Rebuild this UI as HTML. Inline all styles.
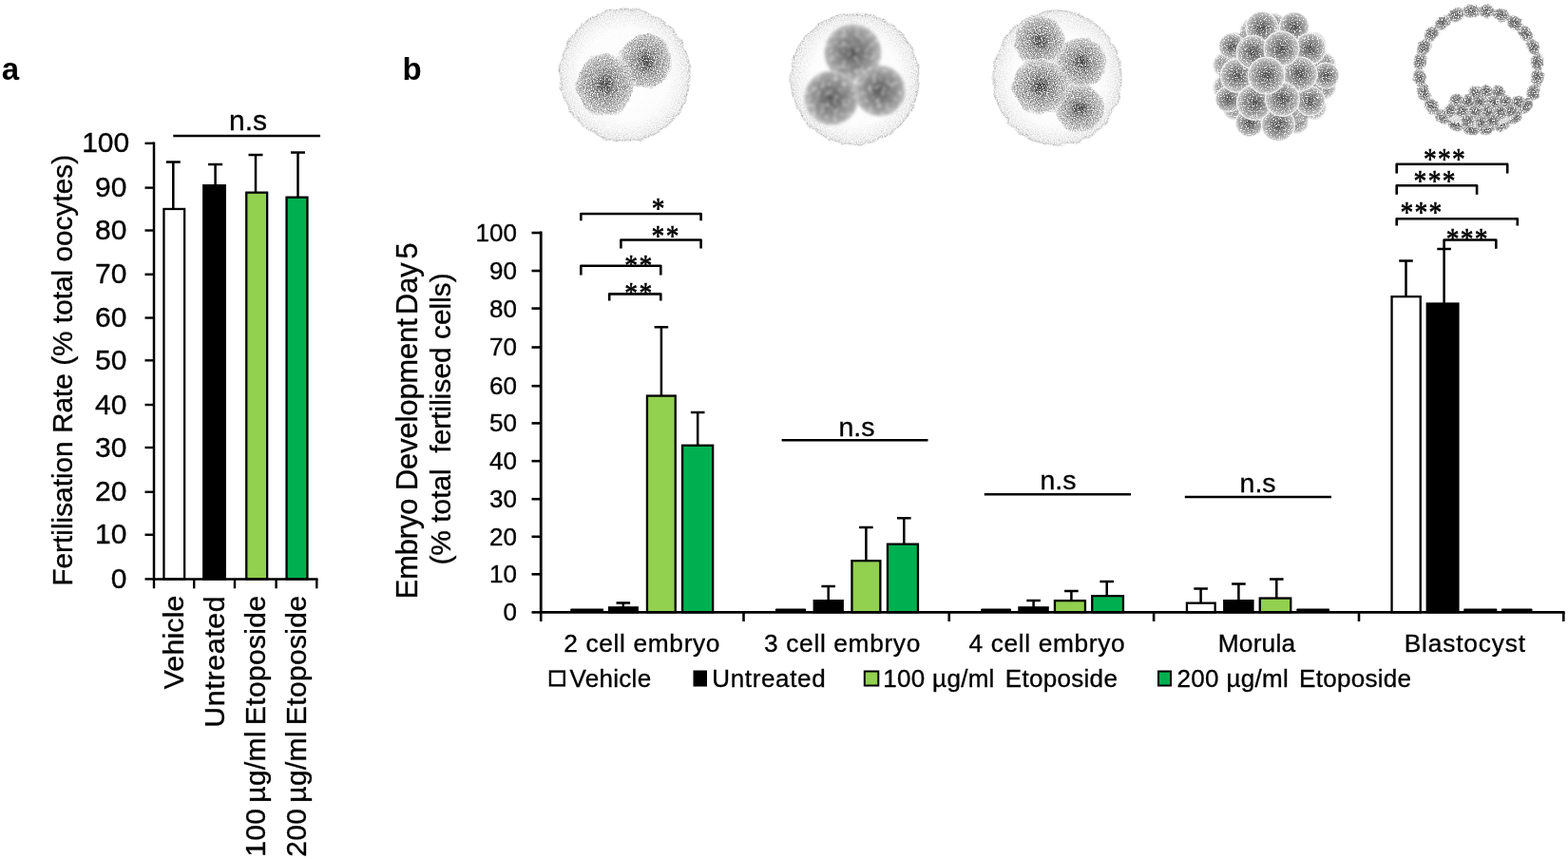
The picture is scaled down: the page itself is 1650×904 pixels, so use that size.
<!DOCTYPE html>
<html lang="en">
<head>
<meta charset="utf-8">
<title>Fertilisation rate and embryo development</title>
<style>
html,body{margin:0;padding:0;background:#fff;}
body{width:1650px;height:904px;overflow:hidden;}
svg{display:block;}
svg text{font-family:"Liberation Sans",Arial,Helvetica,sans-serif;fill:#000;stroke:#000;stroke-width:0.35px;}
svg text.sf{font-family:"Liberation Serif","Times New Roman",serif;}
#chart line,#chart path{stroke:#000;}
</style>
</head>
<body>
<svg width="1650" height="904" viewBox="0 0 1650 904">
<rect x="0" y="0" width="1650" height="904" fill="#fff"/>
<defs>
<filter id="grain" x="-10%" y="-10%" width="120%" height="120%" color-interpolation-filters="sRGB">
<feTurbulence type="fractalNoise" baseFrequency="0.09" numOctaves="2" seed="4" result="lo"/>
<feDisplacementMap in="SourceGraphic" in2="lo" scale="5" xChannelSelector="R" yChannelSelector="G" result="d"/>
<feTurbulence type="fractalNoise" baseFrequency="0.85" numOctaves="2" seed="9" result="hi"/>
<feColorMatrix in="hi" type="matrix" values="0 0 0 0 1 0 0 0 0 1 0 0 0 0 1 0 0 0 4.2 -2.1" result="w"/>
<feComposite in="w" in2="d" operator="in" result="sp"/>
<feColorMatrix in="d" type="matrix" values="0 0 0 0 0 0 0 0 0 0 0 0 0 0 0 -1.7 0 0 1.7 0" result="dk"/>
<feColorMatrix in="hi" type="matrix" values="0 0 0 0 0.3 0 0 0 0 0.3 0 0 0 0 0.3 0 0 0 -5 2.3" result="k"/>
<feComposite in="k" in2="dk" operator="in" result="ks"/>
<feMerge><feMergeNode in="d"/><feMergeNode in="ks"/><feMergeNode in="sp"/></feMerge>
</filter>
<filter id="grain2" x="-10%" y="-10%" width="120%" height="120%" color-interpolation-filters="sRGB">
<feTurbulence type="fractalNoise" baseFrequency="0.8" numOctaves="2" seed="21" result="hi"/>
<feColorMatrix in="hi" type="matrix" values="0 0 0 0 1 0 0 0 0 1 0 0 0 0 1 0 0 0 4.2 -2.15" result="w"/>
<feComposite in="w" in2="SourceGraphic" operator="in" result="sp"/>
<feMerge><feMergeNode in="SourceGraphic"/><feMergeNode in="sp"/></feMerge>
</filter>
<filter id="grain3" x="-10%" y="-10%" width="120%" height="120%" color-interpolation-filters="sRGB">
<feTurbulence type="fractalNoise" baseFrequency="0.16" numOctaves="2" seed="5" result="lo"/>
<feDisplacementMap in="SourceGraphic" in2="lo" scale="4" xChannelSelector="R" yChannelSelector="G" result="d"/>
<feTurbulence type="fractalNoise" baseFrequency="0.75" numOctaves="2" seed="33" result="hi"/>
<feColorMatrix in="hi" type="matrix" values="0 0 0 0 1 0 0 0 0 1 0 0 0 0 1 0 0 0 4.5 -2.2" result="w"/>
<feComposite in="w" in2="d" operator="in" result="sp"/>
<feMerge><feMergeNode in="d"/><feMergeNode in="sp"/></feMerge>
</filter>
<filter id="soft" x="-15%" y="-15%" width="130%" height="130%" color-interpolation-filters="sRGB">
<feTurbulence type="fractalNoise" baseFrequency="0.22" numOctaves="2" seed="14" result="n"/>
<feColorMatrix in="n" type="matrix" values="0 0 0 0 1 0 0 0 0 1 0 0 0 0 1 0 0 0 1.5 -0.68" result="w"/>
<feComposite in="w" in2="SourceGraphic" operator="in" result="sp"/>
<feMerge result="m"><feMergeNode in="SourceGraphic"/><feMergeNode in="sp"/></feMerge>
<feGaussianBlur in="m" stdDeviation="1.7"/>
</filter>
<radialGradient id="zona">
<stop offset="0" stop-color="#fff"/><stop offset="0.68" stop-color="#fcfcfc"/><stop offset="0.84" stop-color="#f3f3f3"/><stop offset="0.95" stop-color="#eaeaea"/><stop offset="0.985" stop-color="#d2d2d2"/><stop offset="1" stop-color="#dcdcdc" stop-opacity="0.7"/>
</radialGradient>
<radialGradient id="cell">
<stop offset="0" stop-color="#444"/><stop offset="0.18" stop-color="#606060"/><stop offset="0.36" stop-color="#929292"/><stop offset="0.7" stop-color="#b2b2b2"/><stop offset="0.92" stop-color="#c8c8c8"/><stop offset="1" stop-color="#e6e6e6"/>
</radialGradient>
<radialGradient id="cellb">
<stop offset="0" stop-color="#545454"/><stop offset="0.3" stop-color="#707070"/><stop offset="0.6" stop-color="#8a8a8a"/><stop offset="0.85" stop-color="#a2a2a2"/><stop offset="1" stop-color="#c0c0c0"/>
</radialGradient>
<radialGradient id="sph">
<stop offset="0" stop-color="#484848"/><stop offset="0.3" stop-color="#6e6e6e"/><stop offset="0.7" stop-color="#9e9e9e"/><stop offset="0.9" stop-color="#c0c0c0"/><stop offset="0.97" stop-color="#f0f0f0"/><stop offset="1" stop-color="#fff" stop-opacity="0.8"/>
</radialGradient>
<radialGradient id="sphb">
<stop offset="0" stop-color="#6a6a6a"/><stop offset="0.4" stop-color="#8c8c8c"/><stop offset="0.75" stop-color="#b4b4b4"/><stop offset="0.93" stop-color="#e4e4e4"/><stop offset="1" stop-color="#f4f4f4" stop-opacity="0.5"/>
</radialGradient>
<radialGradient id="blob">
<stop offset="0" stop-color="#585858"/><stop offset="0.5" stop-color="#7a7a7a"/><stop offset="0.85" stop-color="#a2a2a2"/><stop offset="1" stop-color="#c0c0c0" stop-opacity="0.5"/>
</radialGradient>
</defs>
<g filter="url(#grain)">
<ellipse cx="657.5" cy="79" rx="69.5" ry="71" fill="url(#zona)"/>
<path d="M706.7 64.3L706.8 66.8L706.9 69.3L706.9 71.9L706.9 74.6L705.2 76.7L703.6 78.7L702.0 80.6L700.3 82.4L698.6 84.1L696.9 85.7L695.0 87.2L693.1 88.7L691.2 90.1L689.1 91.4L686.9 92.7L684.6 94.0L682.1 93.6L679.6 93.2L677.2 92.6L674.9 92.0L672.6 91.3L670.4 90.6L668.2 89.7L666.1 88.7L663.9 87.6L661.8 86.4L659.6 85.1L657.4 83.7L656.4 81.2L655.6 78.7L654.8 76.3L654.2 73.9L653.6 71.5L653.1 69.2L652.8 66.7L652.5 64.3L652.4 61.8L652.3 59.3L652.3 56.7L652.3 54.0L654.0 51.9L655.6 49.9L657.2 48.0L658.9 46.2L660.6 44.5L662.3 42.9L664.2 41.4L666.1 39.9L668.0 38.5L670.1 37.2L672.3 35.9L674.6 34.6L677.1 35.0L679.6 35.4L682.0 36.0L684.3 36.6L686.6 37.3L688.8 38.0L691.0 38.9L693.1 39.9L695.3 41.0L697.4 42.2L699.6 43.5L701.8 44.9L702.8 47.4L703.6 49.9L704.4 52.3L705.0 54.7L705.6 57.1L706.1 59.4L706.4 61.9Z" fill="url(#cell)" stroke="none"/>
<path d="M667.4 89.3L666.5 92.3L665.6 95.1L664.6 97.9L663.6 100.5L662.5 103.0L661.3 105.5L660.0 107.9L658.6 110.3L657.1 112.7L655.5 115.0L653.7 117.3L651.9 119.6L649.2 120.3L646.5 120.8L644.0 121.2L641.4 121.5L638.9 121.7L636.4 121.7L633.9 121.7L631.4 121.5L628.8 121.2L626.3 120.8L623.6 120.3L620.9 119.6L619.1 117.3L617.3 115.0L615.7 112.7L614.2 110.3L612.8 107.9L611.5 105.5L610.3 103.0L609.2 100.5L608.2 97.9L607.2 95.1L606.3 92.3L605.4 89.3L606.3 86.3L607.2 83.5L608.2 80.7L609.2 78.1L610.3 75.6L611.5 73.1L612.8 70.7L614.2 68.3L615.7 65.9L617.3 63.6L619.1 61.3L620.9 59.0L623.6 58.3L626.3 57.8L628.8 57.4L631.4 57.1L633.9 56.9L636.4 56.9L638.9 56.9L641.4 57.1L644.0 57.4L646.5 57.8L649.2 58.3L651.9 59.0L653.7 61.3L655.5 63.6L657.1 65.9L658.6 68.3L660.0 70.7L661.3 73.1L662.5 75.6L663.6 78.1L664.6 80.7L665.6 83.5L666.5 86.3Z" fill="url(#cell)" stroke="none"/>
</g>
<g filter="url(#grain)">
<ellipse cx="899.5" cy="83" rx="68.5" ry="70" fill="url(#zona)"/>
</g>
<g filter="url(#soft)">
<circle cx="897.5" cy="55.5" r="30" fill="url(#cellb)"/>
<circle cx="925.8" cy="95.5" r="26.8" fill="url(#cellb)"/>
<circle cx="875" cy="103" r="28.6" fill="url(#cellb)"/>
</g>
<g filter="url(#grain)">
<ellipse cx="1112.5" cy="82" rx="68.5" ry="72" fill="url(#zona)"/>
<circle cx="1094" cy="43" r="27" fill="url(#cell)"/>
<circle cx="1138" cy="66" r="26.5" fill="url(#cell)"/>
<circle cx="1136" cy="114" r="25.5" fill="url(#cell)"/>
<path d="M1126.0 91.0L1125.1 93.6L1124.2 96.2L1123.2 98.6L1122.2 100.9L1121.1 103.2L1119.9 105.4L1118.6 107.5L1117.2 109.6L1115.7 111.7L1114.1 113.7L1112.3 115.8L1110.5 117.8L1107.8 118.4L1105.1 118.9L1102.6 119.2L1100.0 119.5L1097.5 119.7L1095.0 119.7L1092.5 119.7L1090.0 119.5L1087.4 119.2L1084.9 118.9L1082.2 118.4L1079.5 117.8L1077.7 115.8L1075.9 113.7L1074.3 111.7L1072.8 109.6L1071.4 107.5L1070.1 105.4L1068.9 103.2L1067.8 100.9L1066.8 98.6L1065.8 96.2L1064.9 93.6L1064.0 91.0L1064.9 88.4L1065.8 85.8L1066.8 83.4L1067.8 81.1L1068.9 78.8L1070.1 76.6L1071.4 74.5L1072.8 72.4L1074.3 70.3L1075.9 68.3L1077.7 66.2L1079.5 64.2L1082.2 63.6L1084.9 63.1L1087.4 62.8L1090.0 62.5L1092.5 62.3L1095.0 62.3L1097.5 62.3L1100.0 62.5L1102.6 62.8L1105.1 63.1L1107.8 63.6L1110.5 64.2L1112.3 66.2L1114.1 68.3L1115.7 70.3L1117.2 72.4L1118.6 74.5L1119.9 76.6L1121.1 78.8L1122.2 81.1L1123.2 83.4L1124.2 85.8L1125.1 88.4Z" fill="url(#cell)" stroke="none"/>
</g>
<g filter="url(#grain2)">
<circle cx="1392.7" cy="91.6" r="13.5" fill="url(#sphb)"/>
<circle cx="1382.6" cy="112.9" r="13.5" fill="url(#sphb)"/>
<circle cx="1364.2" cy="127.6" r="13.5" fill="url(#sphb)"/>
<circle cx="1341.2" cy="133.0" r="13.5" fill="url(#sphb)"/>
<circle cx="1318.2" cy="127.9" r="13.5" fill="url(#sphb)"/>
<circle cx="1299.7" cy="113.2" r="13.5" fill="url(#sphb)"/>
<circle cx="1289.4" cy="92.0" r="13.5" fill="url(#sphb)"/>
<circle cx="1289.3" cy="68.4" r="13.5" fill="url(#sphb)"/>
<circle cx="1299.4" cy="47.1" r="13.5" fill="url(#sphb)"/>
<circle cx="1317.8" cy="32.4" r="13.5" fill="url(#sphb)"/>
<circle cx="1340.8" cy="27.0" r="13.5" fill="url(#sphb)"/>
<circle cx="1363.8" cy="32.1" r="13.5" fill="url(#sphb)"/>
<circle cx="1382.3" cy="46.8" r="13.5" fill="url(#sphb)"/>
<circle cx="1392.6" cy="68.0" r="13.5" fill="url(#sphb)"/>
<circle cx="1340" cy="80" r="57" fill="#a2a2a2"/>
<circle cx="1296.3" cy="48.7" r="14" fill="url(#sph)"/>
<circle cx="1292.7" cy="104.4" r="14" fill="url(#sph)"/>
<circle cx="1314.9" cy="129.2" r="15" fill="url(#sph)"/>
<circle cx="1395.4" cy="79.6" r="14" fill="url(#sph)"/>
<circle cx="1328" cy="29.2" r="17.5" fill="url(#sph)"/>
<circle cx="1361.8" cy="28.3" r="16" fill="url(#sph)"/>
<circle cx="1345" cy="131" r="18" fill="url(#sph)"/>
<circle cx="1378.6" cy="106.2" r="16" fill="url(#sph)"/>
<circle cx="1378.6" cy="51.3" r="17" fill="url(#sph)"/>
<circle cx="1301.6" cy="79.6" r="18" fill="url(#sph)"/>
<circle cx="1318.4" cy="54.9" r="18" fill="url(#sph)"/>
<circle cx="1368" cy="77.9" r="18.5" fill="url(#sph)"/>
<circle cx="1320" cy="108" r="19" fill="url(#sph)"/>
<circle cx="1349.4" cy="104.4" r="18.5" fill="url(#sph)"/>
<circle cx="1348.5" cy="51.3" r="19" fill="url(#sph)"/>
<circle cx="1332.6" cy="79.6" r="20" fill="url(#sph)"/>
</g>
<g filter="url(#grain3)">
<ellipse cx="1617.8" cy="81.6" rx="9.4" ry="7.2" fill="url(#blob)" transform="rotate(97 1617.8 81.6)"/>
<ellipse cx="1613.6" cy="97.3" rx="9.4" ry="7.2" fill="url(#blob)" transform="rotate(112 1613.6 97.3)"/>
<ellipse cx="1605.5" cy="111.4" rx="9.4" ry="7.2" fill="url(#blob)" transform="rotate(127 1605.5 111.4)"/>
<ellipse cx="1594.0" cy="122.9" rx="9.4" ry="7.2" fill="url(#blob)" transform="rotate(142 1594.0 122.9)"/>
<ellipse cx="1579.9" cy="131.0" rx="9.4" ry="7.2" fill="url(#blob)" transform="rotate(157 1579.9 131.0)"/>
<ellipse cx="1564.2" cy="135.3" rx="9.4" ry="7.2" fill="url(#blob)" transform="rotate(172 1564.2 135.3)"/>
<ellipse cx="1547.9" cy="135.3" rx="9.4" ry="7.2" fill="url(#blob)" transform="rotate(187 1547.9 135.3)"/>
<ellipse cx="1532.2" cy="131.1" rx="9.4" ry="7.2" fill="url(#blob)" transform="rotate(202 1532.2 131.1)"/>
<ellipse cx="1518.1" cy="123.0" rx="9.4" ry="7.2" fill="url(#blob)" transform="rotate(217 1518.1 123.0)"/>
<ellipse cx="1506.6" cy="111.5" rx="9.4" ry="7.2" fill="url(#blob)" transform="rotate(232 1506.6 111.5)"/>
<ellipse cx="1498.5" cy="97.4" rx="9.4" ry="7.2" fill="url(#blob)" transform="rotate(247 1498.5 97.4)"/>
<ellipse cx="1494.2" cy="81.7" rx="9.4" ry="7.2" fill="url(#blob)" transform="rotate(262 1494.2 81.7)"/>
<ellipse cx="1494.2" cy="65.4" rx="9.4" ry="7.2" fill="url(#blob)" transform="rotate(277 1494.2 65.4)"/>
<ellipse cx="1498.4" cy="49.7" rx="9.4" ry="7.2" fill="url(#blob)" transform="rotate(292 1498.4 49.7)"/>
<ellipse cx="1506.5" cy="35.6" rx="9.4" ry="7.2" fill="url(#blob)" transform="rotate(307 1506.5 35.6)"/>
<ellipse cx="1518.0" cy="24.1" rx="9.4" ry="7.2" fill="url(#blob)" transform="rotate(322 1518.0 24.1)"/>
<ellipse cx="1532.1" cy="16.0" rx="9.4" ry="7.2" fill="url(#blob)" transform="rotate(337 1532.1 16.0)"/>
<ellipse cx="1547.8" cy="11.7" rx="9.4" ry="7.2" fill="url(#blob)" transform="rotate(352 1547.8 11.7)"/>
<ellipse cx="1564.1" cy="11.7" rx="9.4" ry="7.2" fill="url(#blob)" transform="rotate(367 1564.1 11.7)"/>
<ellipse cx="1579.8" cy="15.9" rx="9.4" ry="7.2" fill="url(#blob)" transform="rotate(382 1579.8 15.9)"/>
<ellipse cx="1593.9" cy="24.0" rx="9.4" ry="7.2" fill="url(#blob)" transform="rotate(397 1593.9 24.0)"/>
<ellipse cx="1605.4" cy="35.5" rx="9.4" ry="7.2" fill="url(#blob)" transform="rotate(412 1605.4 35.5)"/>
<ellipse cx="1613.5" cy="49.6" rx="9.4" ry="7.2" fill="url(#blob)" transform="rotate(427 1613.5 49.6)"/>
<ellipse cx="1617.8" cy="65.3" rx="9.4" ry="7.2" fill="url(#blob)" transform="rotate(442 1617.8 65.3)"/>
<ellipse cx="1558" cy="118" rx="38" ry="16" fill="#d6d6d6"/>
<circle cx="1552.3" cy="97.2" r="7.6" fill="url(#blob)"/>
<circle cx="1564.0" cy="96.0" r="7.6" fill="url(#blob)"/>
<circle cx="1577.0" cy="97.2" r="7.6" fill="url(#blob)"/>
<circle cx="1532.6" cy="105.9" r="7.6" fill="url(#blob)"/>
<circle cx="1544.8" cy="106.4" r="7.6" fill="url(#blob)"/>
<circle cx="1557.4" cy="106.9" r="7.6" fill="url(#blob)"/>
<circle cx="1571.4" cy="107.8" r="7.6" fill="url(#blob)"/>
<circle cx="1584.5" cy="107.3" r="7.6" fill="url(#blob)"/>
<circle cx="1597.5" cy="107.4" r="7.6" fill="url(#blob)"/>
<circle cx="1525.6" cy="116.9" r="7.6" fill="url(#blob)"/>
<circle cx="1538.5" cy="116.5" r="7.6" fill="url(#blob)"/>
<circle cx="1552.6" cy="117.3" r="7.6" fill="url(#blob)"/>
<circle cx="1565.8" cy="117.2" r="7.6" fill="url(#blob)"/>
<circle cx="1579.1" cy="118.3" r="7.6" fill="url(#blob)"/>
<circle cx="1589.8" cy="116.8" r="7.6" fill="url(#blob)"/>
<circle cx="1544.5" cy="127.6" r="7.6" fill="url(#blob)"/>
<circle cx="1559.6" cy="128.6" r="7.6" fill="url(#blob)"/>
<circle cx="1570.6" cy="127.4" r="7.6" fill="url(#blob)"/>
</g>
<g id="chart">
<text x="1.8" y="84.0" font-size="33" font-weight="bold" style="stroke-width:0">a</text>
<text x="423.6" y="84.0" font-size="33" font-weight="bold" style="stroke-width:0">b</text>
<path d="M174.80 170.40H189.80M182.30 170.40V219.80" fill="none" stroke-width="2.5"/>
<rect x="172.45" y="219.95" width="21.70" height="389.45" fill="#fff" stroke="#000" stroke-width="2.3"/>
<path d="M219.10 173.00H234.10M226.60 173.00V195.00" fill="none" stroke-width="2.5"/>
<rect x="214.25" y="195.15" width="22.50" height="414.25" fill="#000" stroke="#000" stroke-width="2.3"/>
<path d="M261.50 163.10H276.50M269.00 163.10V202.50" fill="none" stroke-width="2.5"/>
<rect x="259.25" y="202.65" width="21.90" height="406.75" fill="#92d050" stroke="#000" stroke-width="2.3"/>
<path d="M306.00 160.40H321.00M313.50 160.40V207.50" fill="none" stroke-width="2.5"/>
<rect x="301.55" y="207.65" width="21.90" height="401.75" fill="#00b050" stroke="#000" stroke-width="2.3"/>
<path d="M162.0 149.60000000000002V609.4H334.5" fill="none" stroke-width="2.5"/>
<line x1="152.5" y1="609.4" x2="162.0" y2="609.4" stroke-width="2.4"/>
<text x="133.4" y="619.0" font-size="30" text-anchor="end">0</text>
<line x1="152.5" y1="562.75" x2="162.0" y2="562.75" stroke-width="2.4"/>
<text x="133.4" y="572.35" font-size="30" text-anchor="end">10</text>
<line x1="152.5" y1="517.75" x2="162.0" y2="517.75" stroke-width="2.4"/>
<text x="133.4" y="527.35" font-size="30" text-anchor="end">20</text>
<line x1="152.5" y1="471.0" x2="162.0" y2="471.0" stroke-width="2.4"/>
<text x="133.4" y="480.6" font-size="30" text-anchor="end">30</text>
<line x1="152.5" y1="426.0" x2="162.0" y2="426.0" stroke-width="2.4"/>
<text x="133.4" y="435.6" font-size="30" text-anchor="end">40</text>
<line x1="152.5" y1="379.3" x2="162.0" y2="379.3" stroke-width="2.4"/>
<text x="133.4" y="388.90000000000003" font-size="30" text-anchor="end">50</text>
<line x1="152.5" y1="334.5" x2="162.0" y2="334.5" stroke-width="2.4"/>
<text x="133.4" y="344.1" font-size="30" text-anchor="end">60</text>
<line x1="152.5" y1="288.75" x2="162.0" y2="288.75" stroke-width="2.4"/>
<text x="133.4" y="298.35" font-size="30" text-anchor="end">70</text>
<line x1="152.5" y1="242.5" x2="162.0" y2="242.5" stroke-width="2.4"/>
<text x="133.4" y="252.1" font-size="30" text-anchor="end">80</text>
<line x1="152.5" y1="197.6" x2="162.0" y2="197.6" stroke-width="2.4"/>
<text x="133.4" y="207.2" font-size="30" text-anchor="end">90</text>
<line x1="152.5" y1="150.8" x2="162.0" y2="150.8" stroke-width="2.4"/>
<text x="136.2" y="160.4" font-size="30" text-anchor="end">100</text>
<line x1="162.0" y1="609.4" x2="162.0" y2="619.3" stroke-width="2.4"/>
<line x1="204.2" y1="609.4" x2="204.2" y2="619.3" stroke-width="2.4"/>
<line x1="247.0" y1="609.4" x2="247.0" y2="619.3" stroke-width="2.4"/>
<line x1="290.6" y1="609.4" x2="290.6" y2="619.3" stroke-width="2.4"/>
<line x1="333.3" y1="609.4" x2="333.3" y2="619.3" stroke-width="2.4"/>
<text x="76.4" y="389.8" font-size="29.8" text-anchor="middle" transform="rotate(-90 76.4 389.8)">Fertilisation Rate (% total oocytes)</text>
<text x="193.0" y="626.35" font-size="30.4" text-anchor="end" transform="rotate(-90 193.0 626.35)" letter-spacing="0.15" word-spacing="-2.8">Vehicle</text>
<text x="236.1" y="626.8000000000001" font-size="30.4" text-anchor="end" transform="rotate(-90 236.1 626.8000000000001)" letter-spacing="0.6" word-spacing="-2.8">Untreated</text>
<text x="279.4" y="626.5500000000001" font-size="30.0" text-anchor="end" transform="rotate(-90 279.4 626.5500000000001)" letter-spacing="0.35" word-spacing="-2.8">100 µg/ml Etoposide</text>
<text x="322.4" y="626.5500000000001" font-size="30.0" text-anchor="end" transform="rotate(-90 322.4 626.5500000000001)" letter-spacing="0.35" word-spacing="-2.8">200 µg/ml Etoposide</text>
<line x1="182.3" y1="143.1" x2="337" y2="143.1" stroke-width="2.5"/>
<text x="261" y="137.3" font-size="30" text-anchor="middle">n.s</text>
<rect x="600.30" y="640.50" width="34.70" height="3.8" rx="0.8" fill="#000"/>
<path d="M648.50 634.60H663.10M655.80 634.60V639.20" fill="none" stroke-width="2.5"/>
<rect x="641.15" y="639.35" width="29.60" height="4.95" fill="#000" stroke="#000" stroke-width="2.3"/>
<path d="M688.60 344.30H703.20M695.90 344.30V416.40" fill="none" stroke-width="2.5"/>
<rect x="680.95" y="416.55" width="29.80" height="227.75" fill="#92d050" stroke="#000" stroke-width="2.3"/>
<path d="M726.90 434.00H741.50M734.20 434.00V468.60" fill="none" stroke-width="2.5"/>
<rect x="718.05" y="468.75" width="32.10" height="175.55" fill="#00b050" stroke="#000" stroke-width="2.3"/>
<rect x="816.00" y="640.50" width="32.10" height="3.8" rx="0.8" fill="#000"/>
<path d="M864.40 617.10H879.00M871.70 617.10V632.00" fill="none" stroke-width="2.5"/>
<rect x="856.75" y="632.15" width="30.00" height="12.15" fill="#000" stroke="#000" stroke-width="2.3"/>
<path d="M904.10 555.00H918.70M911.40 555.00V590.00" fill="none" stroke-width="2.5"/>
<rect x="896.45" y="590.15" width="29.90" height="54.15" fill="#92d050" stroke="#000" stroke-width="2.3"/>
<path d="M944.00 545.30H958.60M951.30 545.30V572.50" fill="none" stroke-width="2.5"/>
<rect x="933.95" y="572.65" width="32.00" height="71.65" fill="#00b050" stroke="#000" stroke-width="2.3"/>
<rect x="1032.30" y="640.50" width="31.70" height="3.8" rx="0.8" fill="#000"/>
<path d="M1080.30 632.10H1094.90M1087.60 632.10V639.20" fill="none" stroke-width="2.5"/>
<rect x="1072.45" y="639.35" width="30.20" height="4.95" fill="#000" stroke="#000" stroke-width="2.3"/>
<path d="M1120.10 622.10H1134.70M1127.40 622.10V632.00" fill="none" stroke-width="2.5"/>
<rect x="1109.95" y="632.15" width="32.00" height="12.15" fill="#92d050" stroke="#000" stroke-width="2.3"/>
<path d="M1157.40 611.90H1172.00M1164.70 611.90V627.00" fill="none" stroke-width="2.5"/>
<rect x="1149.25" y="627.15" width="32.70" height="17.15" fill="#00b050" stroke="#000" stroke-width="2.3"/>
<path d="M1256.30 619.60H1270.90M1263.60 619.60V634.50" fill="none" stroke-width="2.5"/>
<rect x="1248.95" y="634.65" width="29.70" height="9.65" fill="#fff" stroke="#000" stroke-width="2.3"/>
<path d="M1296.10 614.60H1310.70M1303.40 614.60V632.00" fill="none" stroke-width="2.5"/>
<rect x="1288.25" y="632.15" width="30.20" height="12.15" fill="#000" stroke="#000" stroke-width="2.3"/>
<path d="M1336.00 609.60H1350.60M1343.30 609.60V629.40" fill="none" stroke-width="2.5"/>
<rect x="1325.75" y="629.55" width="32.50" height="14.75" fill="#92d050" stroke="#000" stroke-width="2.3"/>
<rect x="1364.40" y="640.50" width="34.60" height="3.8" rx="0.8" fill="#000"/>
<path d="M1472.20 274.50H1486.80M1479.50 274.50V312.00" fill="none" stroke-width="2.5"/>
<rect x="1464.55" y="312.15" width="30.20" height="332.15" fill="#fff" stroke="#000" stroke-width="2.3"/>
<path d="M1512.30 262.00H1526.90M1519.60 262.00V319.40" fill="none" stroke-width="2.5"/>
<rect x="1501.75" y="319.55" width="32.70" height="324.75" fill="#000" stroke="#000" stroke-width="2.3"/>
<rect x="1540.30" y="640.50" width="35.00" height="3.8" rx="0.8" fill="#000"/>
<rect x="1580.00" y="640.50" width="32.40" height="3.8" rx="0.8" fill="#000"/>
<path d="M569.2 243.6V644.3H1646.6" fill="none" stroke-width="2.8"/>
<line x1="559.5" y1="644.4" x2="569.2" y2="644.4" stroke-width="2.6"/>
<text x="544" y="653.3" font-size="26" text-anchor="end">0</text>
<line x1="559.5" y1="604.3" x2="569.2" y2="604.3" stroke-width="2.6"/>
<text x="544" y="613.1999999999999" font-size="26" text-anchor="end">10</text>
<line x1="559.5" y1="564.8" x2="569.2" y2="564.8" stroke-width="2.6"/>
<text x="544" y="573.6999999999999" font-size="26" text-anchor="end">20</text>
<line x1="559.5" y1="525.2" x2="569.2" y2="525.2" stroke-width="2.6"/>
<text x="544" y="534.1" font-size="26" text-anchor="end">30</text>
<line x1="559.5" y1="485.2" x2="569.2" y2="485.2" stroke-width="2.6"/>
<text x="544" y="494.09999999999997" font-size="26" text-anchor="end">40</text>
<line x1="559.5" y1="445.4" x2="569.2" y2="445.4" stroke-width="2.6"/>
<text x="544" y="454.29999999999995" font-size="26" text-anchor="end">50</text>
<line x1="559.5" y1="406.2" x2="569.2" y2="406.2" stroke-width="2.6"/>
<text x="544" y="415.09999999999997" font-size="26" text-anchor="end">60</text>
<line x1="559.5" y1="365.5" x2="569.2" y2="365.5" stroke-width="2.6"/>
<text x="544" y="374.4" font-size="26" text-anchor="end">70</text>
<line x1="559.5" y1="324.6" x2="569.2" y2="324.6" stroke-width="2.6"/>
<text x="544" y="333.5" font-size="26" text-anchor="end">80</text>
<line x1="559.5" y1="285.0" x2="569.2" y2="285.0" stroke-width="2.6"/>
<text x="544" y="293.9" font-size="26" text-anchor="end">90</text>
<line x1="559.5" y1="245.0" x2="569.2" y2="245.0" stroke-width="2.6"/>
<text x="544" y="253.9" font-size="26" text-anchor="end">100</text>
<line x1="569.2" y1="644.3" x2="569.2" y2="654" stroke-width="2.6"/>
<line x1="782.5" y1="644.3" x2="782.5" y2="654" stroke-width="2.6"/>
<line x1="998.75" y1="644.3" x2="998.75" y2="654" stroke-width="2.6"/>
<line x1="1214.1" y1="644.3" x2="1214.1" y2="654" stroke-width="2.6"/>
<line x1="1430" y1="644.3" x2="1430" y2="654" stroke-width="2.6"/>
<line x1="1645.3" y1="644.3" x2="1645.3" y2="654" stroke-width="2.6"/>
<text x="675.725" y="685.9" font-size="26.3" text-anchor="middle" letter-spacing="0.65">2 cell embryo</text>
<text x="886.5250000000001" y="685.9" font-size="26.3" text-anchor="middle" letter-spacing="0.65">3 cell embryo</text>
<text x="1101.925" y="685.9" font-size="26.3" text-anchor="middle" letter-spacing="0.65">4 cell embryo</text>
<text x="1322.5" y="685.9" font-size="26.3" text-anchor="middle" letter-spacing="0.2">Morula</text>
<text x="1541.825" y="685.9" font-size="26.3" text-anchor="middle" letter-spacing="0.85">Blastocyst</text>
<text x="439.5" y="630.3" font-size="30.7" transform="rotate(-90 439.5 630.3)">Embryo Development<tspan dx="-4.2"> Day</tspan><tspan dx="-4.6"> 5</tspan></text>
<text x="473.7" y="594.6" font-size="29.9" transform="rotate(-90 473.7 594.6)">(% total&#160; fertilised cells)</text>
<rect x="578.95" y="706.6" width="14.85" height="14.7" fill="#fff" stroke="#000" stroke-width="2.4"/>
<text x="599.5" y="723.1" font-size="26" letter-spacing="0.3">Vehicle</text>
<rect x="729.5" y="705.5" width="14.5" height="17" fill="#000"/>
<text x="749.3" y="723.1" font-size="26" letter-spacing="0.65">Untreated</text>
<rect x="909.8" y="706.5" width="14.5" height="15" fill="#92d050" stroke="#000" stroke-width="2"/>
<text x="929.3" y="723.1" font-size="26" letter-spacing="0.3">100 µg/ml <tspan x="1057.8">Etoposide</tspan></text>
<rect x="1219" y="706.5" width="13" height="15" fill="#00b050" stroke="#000" stroke-width="2"/>
<text x="1238.6" y="723.1" font-size="26" letter-spacing="0.3">200 µg/ml <tspan x="1367">Etoposide</tspan></text>
<line x1="822.6" y1="463.3" x2="976.5" y2="463.3" stroke-width="2.5"/>
<text x="901.5" y="458.5" font-size="28.5" text-anchor="middle">n.s</text>
<line x1="1035.8" y1="520.2" x2="1190" y2="520.2" stroke-width="2.5"/>
<text x="1113.5" y="515.4000000000001" font-size="28.5" text-anchor="middle">n.s</text>
<line x1="1246.8" y1="523.0" x2="1401" y2="523.0" stroke-width="2.5"/>
<text x="1323.6" y="518.2" font-size="28.5" text-anchor="middle">n.s</text>
<path d="M611.3 232.3V225H737.6V232.3" fill="none" stroke-width="2.6" stroke-linejoin="round"/>
<text class="sf" style="stroke-width:0.6px" transform="translate(692.5 230.00) scale(0.87 1)" x="-7.90" y="0" font-size="31.6" letter-spacing="1.50">*</text>
<path d="M653.4 261.5V252.5H737.6V261.5" fill="none" stroke-width="2.6" stroke-linejoin="round"/>
<text class="sf" style="stroke-width:0.6px" transform="translate(700 258.65) scale(0.87 1)" x="-16.55" y="0" font-size="31.6" letter-spacing="1.50">**</text>
<path d="M611.3 289.40000000000003V279.8H695.3V289.40000000000003" fill="none" stroke-width="2.6" stroke-linejoin="round"/>
<text class="sf" style="stroke-width:0.6px" transform="translate(671.75 290.10) scale(0.87 1)" x="-16.55" y="0" font-size="31.6" letter-spacing="1.50">**</text>
<path d="M641.2 316.4V309.4H695.3V316.4" fill="none" stroke-width="2.6" stroke-linejoin="round"/>
<text class="sf" style="stroke-width:0.6px" transform="translate(671.75 318.50) scale(0.87 1)" x="-16.55" y="0" font-size="31.6" letter-spacing="1.50">**</text>
<path d="M1469.7 182.5V172.8H1586.2V182.5" fill="none" stroke-width="2.6" stroke-linejoin="round"/>
<text class="sf" style="stroke-width:0.6px" transform="translate(1519.8 177.90) scale(0.87 1)" x="-25.20" y="0" font-size="31.6" letter-spacing="1.50">***</text>
<path d="M1469.7 204.8V195.3H1554.1V204.8" fill="none" stroke-width="2.6" stroke-linejoin="round"/>
<text class="sf" style="stroke-width:0.6px" transform="translate(1509.5 200.70) scale(0.87 1)" x="-25.20" y="0" font-size="31.6" letter-spacing="1.50">***</text>
<path d="M1469.7 237.60000000000002V230.3H1596.8V237.60000000000002" fill="none" stroke-width="2.6" stroke-linejoin="round"/>
<text class="sf" style="stroke-width:0.6px" transform="translate(1495.3 234.20) scale(0.87 1)" x="-25.20" y="0" font-size="31.6" letter-spacing="1.50">***</text>
<path d="M1519.6 262.0V252.5H1574.3V261.8" fill="none" stroke-width="2.6" stroke-linejoin="round"/>
<text class="sf" style="stroke-width:0.6px" transform="translate(1543.6 262.40) scale(0.87 1)" x="-25.20" y="0" font-size="31.6" letter-spacing="1.50">***</text>
</g>
</svg>
</body>
</html>
